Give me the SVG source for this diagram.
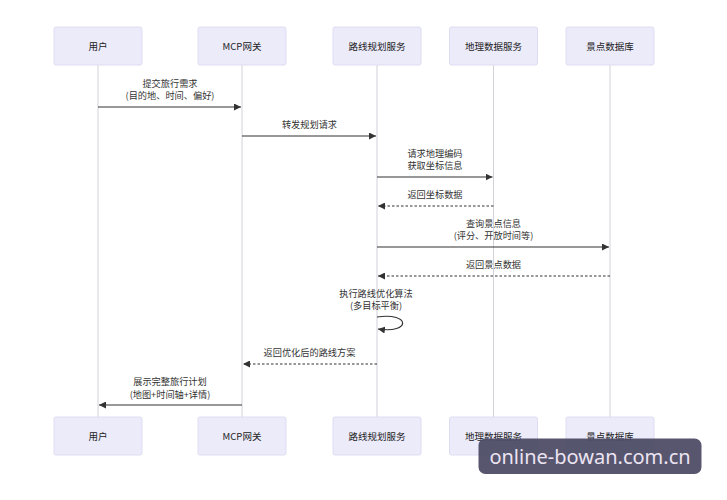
<svg xmlns="http://www.w3.org/2000/svg" width="727" height="500" viewBox="0 0 727 500">
  <style>
    .box { fill: #ECEBFA; stroke: #DEDCF2; stroke-width: 1; }
    .plabel { font-family: "Noto Sans CJK SC", "Noto Sans", sans-serif; font-size: 9.5px; fill: #222; text-anchor: middle; dominant-baseline: central; }
    .mlabel { font-family: "Noto Sans CJK SC", "Noto Sans", sans-serif; font-size: 9.2px; fill: #333; text-anchor: middle; dominant-baseline: central; }
    .life { stroke: #D2D2DA; stroke-width: 1; fill: none; }
    .msg { stroke: #333; stroke-width: 1.2; fill: none; marker-end: url(#arrow); }
    .dash { stroke-dasharray: 2.5 2; }
  </style>
  <defs>
    <marker id="arrow" viewBox="0 0 10 10" refX="10" refY="5" markerWidth="7" markerHeight="7" markerUnits="userSpaceOnUse" orient="auto">
      <path d="M0,0 L10,5 L0,10 z" fill="#333"/>
    </marker>
  </defs>
  <rect width="727" height="500" fill="#ffffff"/>

  <g id="lifelines">
    <line class="life" x1="98" y1="65" x2="98" y2="417"/>
    <line class="life" x1="242" y1="65" x2="242" y2="417"/>
    <line class="life" x1="377" y1="65" x2="377" y2="417"/>
    <line class="life" x1="493.5" y1="65" x2="493.5" y2="417"/>
    <line class="life" x1="610" y1="65" x2="610" y2="417"/>
  </g>

  <g id="user">
    <rect class="box" x="54" y="27" width="88" height="38" rx="2"/>
    <text class="plabel" x="98" y="46">用户</text>
    <rect class="box" x="54" y="417" width="88" height="38" rx="2"/>
    <text class="plabel" x="98" y="436">用户</text>
  </g>
  <g id="gateway">
    <rect class="box" x="198" y="27" width="88" height="38" rx="2"/>
    <text class="plabel" x="242" y="46">MCP网关</text>
    <rect class="box" x="198" y="417" width="88" height="38" rx="2"/>
    <text class="plabel" x="242" y="436">MCP网关</text>
  </g>
  <g id="route">
    <rect class="box" x="333" y="27" width="88" height="38" rx="2"/>
    <text class="plabel" x="377" y="46">路线规划服务</text>
    <rect class="box" x="333" y="417" width="88" height="38" rx="2"/>
    <text class="plabel" x="377" y="436">路线规划服务</text>
  </g>
  <g id="geo">
    <rect class="box" x="449.5" y="27" width="88" height="38" rx="2"/>
    <text class="plabel" x="493.5" y="46">地理数据服务</text>
    <rect class="box" x="449.5" y="417" width="88" height="38" rx="2"/>
    <text class="plabel" x="493.5" y="436">地理数据服务</text>
  </g>
  <g id="poi">
    <rect class="box" x="566" y="27" width="88" height="38" rx="2"/>
    <text class="plabel" x="610" y="46">景点数据库</text>
    <rect class="box" x="566" y="417" width="88" height="38" rx="2"/>
    <text class="plabel" x="610" y="436">景点数据库</text>
  </g>

  <g id="connectors">
    <line class="msg" x1="98" y1="107" x2="241" y2="107"/>
    <line class="msg" x1="242" y1="136" x2="376" y2="136"/>
    <line class="msg" x1="377" y1="177" x2="492.5" y2="177"/>
    <line class="msg dash" x1="493.5" y1="206" x2="378" y2="206"/>
    <line class="msg" x1="377" y1="247" x2="609" y2="247"/>
    <line class="msg dash" x1="610" y1="276" x2="378" y2="276"/>
    <path class="msg" d="M377,317 C411,312 411,334 378,329"/>
    <line class="msg dash" x1="377" y1="364" x2="243" y2="364"/>
    <line class="msg" x1="242" y1="405" x2="99" y2="405"/>
  </g>

  <g id="labels">
    <text class="mlabel" x="170" y="82.5">提交旅行需求</text>
    <text class="mlabel" x="170" y="95">(目的地、时间、偏好)</text>
    <text class="mlabel" x="309.5" y="124">转发规划请求</text>
    <text class="mlabel" x="435" y="152.5">请求地理编码</text>
    <text class="mlabel" x="435" y="165">获取坐标信息</text>
    <text class="mlabel" x="435" y="193.5">返回坐标数据</text>
    <text class="mlabel" x="493.5" y="222.5">查询景点信息</text>
    <text class="mlabel" x="493.5" y="235">(评分、开放时间等)</text>
    <text class="mlabel" x="493.5" y="264">返回景点数据</text>
    <text class="mlabel" x="376" y="292.5">执行路线优化算法</text>
    <text class="mlabel" x="376" y="305">(多目标平衡)</text>
    <text class="mlabel" x="309.5" y="352">返回优化后的路线方案</text>
    <text class="mlabel" x="170" y="381">展示完整旅行计划</text>
    <text class="mlabel" x="170" y="393.5">(地图+时间轴+详情)</text>
  </g>

  <g id="watermark">
    <rect x="478.5" y="438.5" width="223" height="35.5" rx="7" fill="#4E4D66" fill-opacity="0.95"/>
    <text x="590" y="456.5" font-family="Noto Sans, sans-serif" font-size="20" fill="#ECE4F2" text-anchor="middle" dominant-baseline="central">online-bowan.com.cn</text>
  </g>
</svg>
